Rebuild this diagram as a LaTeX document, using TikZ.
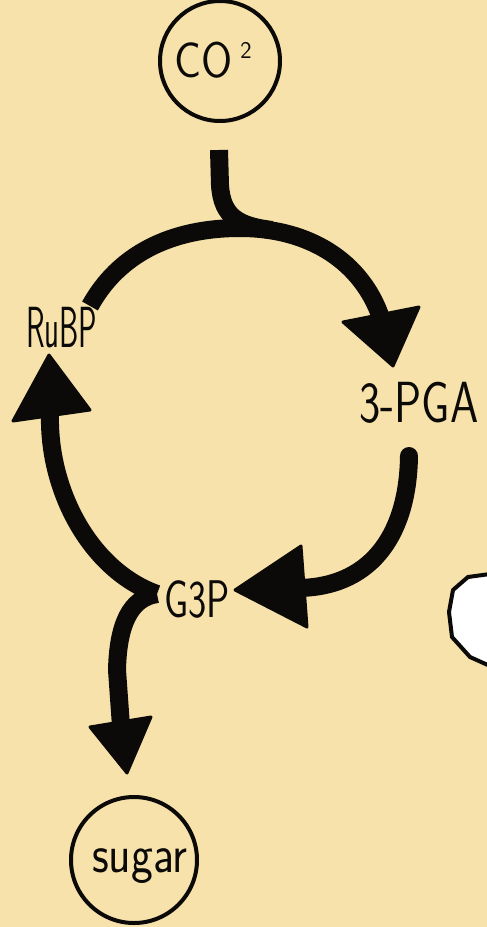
\documentclass[tikz,border=0pt]{standalone}
\usepackage{fontspec}
\definecolor{bg}{RGB}{246,226,170}
\definecolor{ink}{RGB}{12,10,8}
\newcommand\hw[2]{\scalebox{#1}[1]{#2}}
\tikzset{
  flow/.style={line width=18pt, draw=ink},
  head/.style={fill=ink, draw=ink, line width=3pt, line join=round},
  bubble/.style={circle, draw=ink, line width=4pt, inner sep=0pt},
  word/.style={inner sep=0pt, anchor=base, text=ink},
}
\begin{document}
\begin{tikzpicture}[x=1pt,y=-1pt]
\useasboundingbox (0,0) rectangle (487,927);
\fill[bg] (0,0) rectangle (487,927);

% circles
\node[bubble, minimum size=120pt] (co2) at (220,61) {};
\node[bubble, minimum size=126pt] (sugar) at (134,860) {};

% texts
\node[word, font=\fontsize{50}{52}\selectfont\sffamily] (co2t) at (204,77) {\hw{0.9}{CO}};
\node[word, font=\fontsize{24}{24}\selectfont\sffamily] (co2s) at (246,58) {2};
\node[word, font=\fontsize{58}{60}\selectfont\sffamily] (rubp) at (62,347) {\hw{0.53}{RuBP}};
\node[word, font=\fontsize{58}{60}\selectfont\sffamily] (pga) at (419,422) {\hw{0.78}{3-PGA}};
\node[word, font=\fontsize{53}{55}\selectfont\sffamily] (g3p) at (197,617) {\hw{0.73}{G3P}};
\node[word, font=\fontsize{54}{56}\selectfont\sffamily] (sugart) at (140,872) {\hw{0.86}{sugar}};

% path coordinates
\coordinate (s0) at (219,150);
\coordinate (a1) at (90,306);
\coordinate (a2) at (240,228);
\coordinate (a3) at (381,318);
\coordinate (r0) at (409,456);
\coordinate (r1) at (300,588);
\coordinate (f0) at (157,594);
\coordinate (l1) at (50,414);
\coordinate (d1) at (121,726);

% connectors
\draw[flow] (a1) .. controls (118,255) and (170,228) .. (a2) .. controls (310,228) and (362,262) .. (a3);
\draw[flow] (s0) -- (220,185) .. controls (222,218) and (240,226) .. (272,230);
\draw[flow, line cap=round] (r0) .. controls (408,530) and (375,586) .. (r1);
\draw[flow] (f0) .. controls (90,570) and (48,490) .. (l1);
\draw[flow] (f0) .. controls (130,598) and (118,625) .. (117,670) -- (d1);

% arrowheads
\coordinate (h1a) at (343,322); \coordinate (h1b) at (419,307); \coordinate (h1c) at (393,366);
\coordinate (h2a) at (49,355); \coordinate (h2b) at (13,421); \coordinate (h2c) at (90,410);
\coordinate (h3a) at (235,590); \coordinate (h3b) at (301,546); \coordinate (h3c) at (307,627);
\coordinate (h4a) at (90,727); \coordinate (h4b) at (151,717); \coordinate (h4c) at (127,773);
\path[head] (h1a) -- (h1b) -- (h1c) -- cycle;
\path[head] (h2a) -- (h2b) -- (h2c) -- cycle;
\path[head] (h3a) -- (h3b) -- (h3c) -- cycle;
\path[head] (h4a) -- (h4b) -- (h4c) -- cycle;

% partial white shape at right edge
\draw[fill=white, draw=ink, line width=4pt, line join=round]
  (490,574) -- (468,577) -- (453,590) -- (449,612) -- (452,637) -- (470,657) -- (490,666);
\end{tikzpicture}
\end{document}
